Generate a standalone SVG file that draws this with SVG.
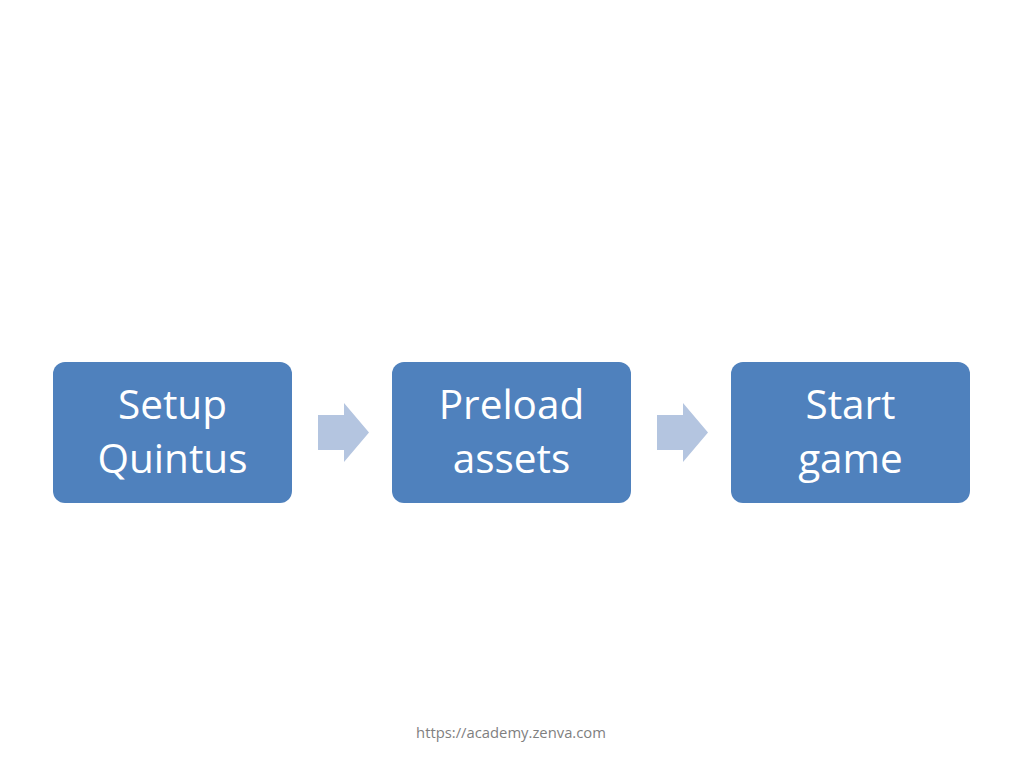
<svg xmlns="http://www.w3.org/2000/svg" width="1024" height="768" viewBox="0 0 1024 768">
<style>
.box{fill:#4F81BD;}
.lbl{font-family:"Open Sans","Noto Sans",sans-serif;font-size:40.5px;fill:#FFFFFF;text-anchor:middle;}
.arr{fill:#B4C5E0;}
.ft{font-family:"Open Sans","Noto Sans",sans-serif;font-size:14.8px;fill:#7F7F7F;text-anchor:middle;}
</style>
<rect width="1024" height="768" fill="#FFFFFF"/>
<g id="connectors">
<polygon class="arr" points="318,415 344,415 344,403 369,432.5 344,462 344,450 318,450"/>
<polygon class="arr" points="657,415 683,415 683,403 708,432.5 683,462 683,450 657,450"/>
</g>
<g id="node1">
<rect class="box" x="53" y="362" width="239" height="141" rx="12"/>
<text class="lbl" x="172.5" y="419">Setup</text>
<text class="lbl" x="172.5" y="473">Quintus</text>
</g>
<g id="node2">
<rect class="box" x="392" y="362" width="239" height="141" rx="12"/>
<text class="lbl" x="511.5" y="419">Preload</text>
<text class="lbl" x="511.5" y="473">assets</text>
</g>
<g id="node3">
<rect class="box" x="731" y="362" width="239" height="141" rx="12"/>
<text class="lbl" x="850.5" y="419">Start</text>
<text class="lbl" x="850.5" y="473">game</text>
</g>
<text class="ft" x="511" y="738">https://academy.zenva.com</text>
</svg>
